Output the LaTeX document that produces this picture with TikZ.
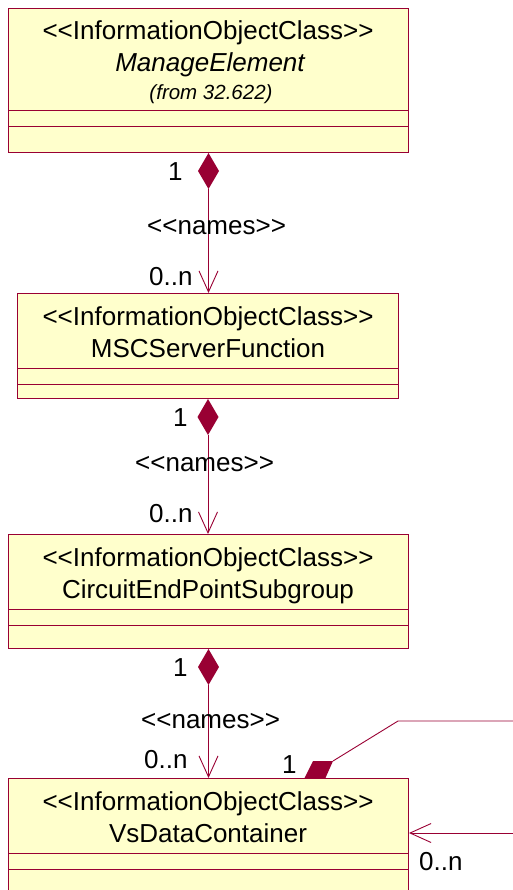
\documentclass[tikz,border=0pt]{standalone}
\usepackage{fontspec}
\setmainfont{Liberation Sans}
\usetikzlibrary{shapes.geometric,arrows.meta}
\definecolor{umlline}{HTML}{990033}
\definecolor{umlfill}{HTML}{FFFFCC}
\newcommand\umlopen{<\kern0pt<}
\newcommand\umlclose{>\kern0pt>}
\begin{document}
\begin{tikzpicture}[x=1pt,y=-1pt,
  classbox/.style={draw=umlline, fill=umlfill, line width=1pt, inner sep=0pt, anchor=north west},
  ttl/.style={anchor=base, inner sep=0pt, font=\fontsize{26}{26}\selectfont},
  lbl/.style={anchor=base west, inner sep=0pt, font=\fontsize{26}{26}\selectfont},
  comp/.style={draw=umlline, line width=1pt},
  agg/.style={diamond, fill=umlline, draw=none, inner sep=0pt, outer sep=0pt, minimum width=21pt, minimum height=36pt, anchor=north},
  assoc/.style={draw=umlline, line width=0.9pt, -{Straight Barb[length=21pt,width=19pt,line width=0.9pt]}},
  plain/.style={draw=umlline, line width=0.9pt},
]
\useasboundingbox (0,0) rectangle (513,890);
\clip (0,0) rectangle (513,890);

% self association aggregation mark (behind box 4)
\coordinate (sa1) at (304,779);
\coordinate (sa2) at (325,779);
\coordinate (sa3) at (333,761);
\coordinate (sa4) at (313,761);
\coordinate (sbend) at (398,721);
\coordinate (sout) at (513,721);
\fill[umlline] (sa1) -- (sa2) -- (sa3) -- (sa4) -- cycle;
\draw[plain] (sa3) -- (sbend) -- (sout);

% boxes
\node[classbox, minimum width=400pt, minimum height=144pt] (b1) at (8,8) {};
\node[classbox, minimum width=381pt, minimum height=105pt] (b2) at (17,293) {};
\node[classbox, minimum width=400pt, minimum height=114pt] (b3) at (8,534) {};
\node[classbox, minimum width=400pt, minimum height=130pt] (b4) at (8,778) {};

% compartments
\draw[comp] (8,111) -- (408,111) (8,127) -- (408,127);
\draw[comp] (17,368) -- (398,368) (17,384) -- (398,384);
\draw[comp] (8,609) -- (408,609) (8,625) -- (408,625);
\draw[comp] (8,853) -- (408,853) (8,869) -- (408,869);

% titles
\node[ttl] (t1a) at (208,40) {\umlopen InformationObjectClass\umlclose};
\node[ttl] (t1b) at (210,72) {\itshape ManageElement};
\node[ttl, font=\fontsize{20.5}{20.5}\selectfont\itshape] (t1c) at (211,100) {(from 32.622)};
\node[ttl] (t2a) at (208,325) {\umlopen InformationObjectClass\umlclose};
\node[ttl] (t2b) at (208,357) {MSCServerFunction};
\node[ttl] (t3a) at (208,566) {\umlopen InformationObjectClass\umlclose};
\node[ttl] (t3b) at (208,598) {CircuitEndPointSubgroup};
\node[ttl] (t4a) at (208,810) {\umlopen InformationObjectClass\umlclose};
\node[ttl] (t4b) at (208,842) {VsDataContainer};

% composition connectors
\node[agg] (d1) at (b1.south) {};
\draw[assoc] (d1.south) -- (d1.south |- b2.north);
\node[agg] (d2) at (b2.south) {};
\draw[assoc] (d2.south) -- (d2.south |- b3.north);
\node[agg] (d3) at (b3.south) {};
\draw[assoc] (d3.south) -- (d3.south |- b4.north);

% self association arrow
\coordinate (sin) at (513,833);
\draw[assoc] (sin) -- (sin -| b4.east);

% labels
\node[lbl] (m1a) at (168,181) {1};
\node[lbl] (n1) at (147,235) {\umlopen names\umlclose};
\node[lbl] (m1b) at (149,285) {0..n};
\node[lbl] (m2a) at (173,426) {1};
\node[lbl] (n2) at (135,471) {\umlopen names\umlclose};
\node[lbl] (m2b) at (149,522) {0..n};
\node[lbl] (m3a) at (173,676) {1};
\node[lbl] (n3) at (141,728) {\umlopen names\umlclose};
\node[lbl] (m3b) at (144,768) {0..n};
\node[lbl] (m4a) at (282,773) {1};
\node[lbl] (m4b) at (419,870) {0..n};
\end{tikzpicture}
\end{document}
